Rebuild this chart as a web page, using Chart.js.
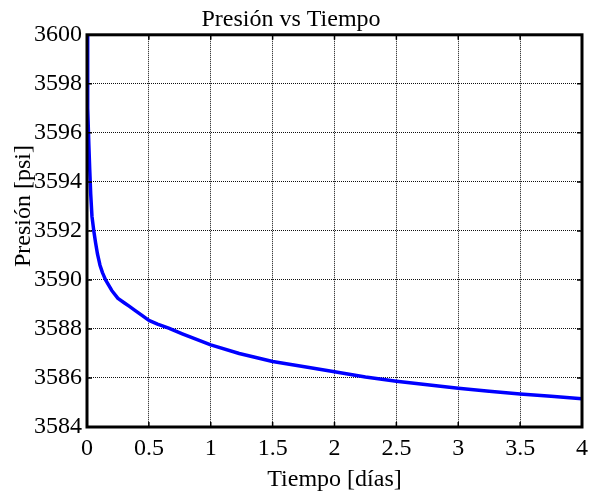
<!DOCTYPE html>
<html>
<head>
<meta charset="utf-8">
<script src="https://cdn.jsdelivr.net/npm/chart.js@4.4.1/dist/chart.umd.min.js"></script>
<style>
  html, body { margin: 0; padding: 0; background: #fff; }
  canvas { display: block; }
</style>
</head>
<body>
<canvas id="c" width="592" height="498"></canvas>
<script>
// ---- data ----
const tDays = [0, 0.003, 0.008, 0.015, 0.022, 0.03, 0.04, 0.055, 0.07, 0.085, 0.105, 0.125, 0.15, 0.2, 0.25, 0.3, 0.34, 0.39, 0.45, 0.5, 0.57, 0.66, 0.77, 0.88, 1.0, 1.23, 1.5, 1.77, 2.0, 2.25, 2.5, 2.75, 3.0, 3.25, 3.5, 3.75, 4.0];
const pressure = [3600, 3598.5, 3597, 3595.5, 3594.5, 3593.5, 3592.6, 3592.0, 3591.5, 3591.05, 3590.6, 3590.3, 3590.0, 3589.57, 3589.25, 3589.07, 3588.93, 3588.75, 3588.53, 3588.35, 3588.2, 3588.03, 3587.8, 3587.58, 3587.35, 3587.0, 3586.67, 3586.45, 3586.25, 3586.04, 3585.87, 3585.72, 3585.58, 3585.46, 3585.35, 3585.25, 3585.15];
const xTicks = [0, 0.5, 1, 1.5, 2, 2.5, 3, 3.5, 4];
const yTicks = [3584, 3586, 3588, 3590, 3592, 3594, 3596, 3598, 3600];
const titleText = 'Presión vs Tiempo';
const xLabel = 'Tiempo [días]';
const yLabel = 'Presión [psi]';

const FONT = '"Liberation Serif", "Times New Roman", serif';

const boxPlugin = {
  id: 'box',
  afterDraw(chart) {
    const { ctx, chartArea: a, scales: { x, y } } = chart;
    ctx.save();
    ctx.strokeStyle = '#000';
    ctx.lineWidth = 1.5;
    ctx.beginPath();
    xTicks.forEach(v => {
      const px = x.getPixelForValue(v);
      ctx.moveTo(px, a.bottom); ctx.lineTo(px, a.bottom - 5);
      ctx.moveTo(px, a.top); ctx.lineTo(px, a.top + 5);
    });
    yTicks.forEach(v => {
      const py = y.getPixelForValue(v);
      ctx.moveTo(a.left, py); ctx.lineTo(a.left + 5, py);
      ctx.moveTo(a.right, py); ctx.lineTo(a.right - 5, py);
    });
    ctx.stroke();
    ctx.lineWidth = 3;
    ctx.strokeRect(a.left, a.top, a.right - a.left, a.bottom - a.top);
    // y axis label (offset upward like the reference)
    ctx.font = '24px ' + FONT;
    ctx.fillStyle = '#000';
    ctx.textAlign = 'center';
    ctx.textBaseline = 'middle';
    ctx.translate(24, 206);
    ctx.rotate(-Math.PI / 2);
    ctx.fillText(yLabel, 0, 0);
    ctx.restore();
  }
};

new Chart(document.getElementById('c'), {
  type: 'line',
  data: {
    datasets: [{
      data: tDays.map((t, i) => ({ x: t, y: pressure[i] })),
      borderColor: '#0000ff',
      borderWidth: 3.5,
      pointRadius: 0,
      tension: 0,
      borderJoinStyle: 'round',
      fill: false
    }]
  },
  options: {
    responsive: false,
    animation: false,
    layout: { padding: { left: 0, right: 10, top: 0, bottom: 0 } },
    plugins: {
      legend: { display: false },
      tooltip: { enabled: false },
      title: {
        display: true,
        text: titleText,
        color: '#000',
        font: { family: FONT, size: 24, weight: 'normal' },
        padding: { top: 5, bottom: 1 }
      }
    },
    scales: {
      x: {
        type: 'linear',
        min: 0, max: 4,
        afterBuildTicks: s => { s.ticks = xTicks.map(v => ({ value: v })); },
        afterFit: s => { s.height = 71; s.paddingLeft = 0; s.paddingRight = 0; },
        ticks: {
          color: '#000',
          font: { family: FONT, size: 24 },
          padding: 7,
          maxRotation: 0,
          callback: v => String(v)
        },
        grid: { color: '#111', lineWidth: 1, drawTicks: false },
        border: { display: false, dash: [1, 1] },
        title: {
          display: true,
          text: xLabel,
          color: '#000',
          font: { family: FONT, size: 24 },
          padding: { top: 4, bottom: 4 }
        }
      },
      y: {
        type: 'linear',
        min: 3584, max: 3600,
        afterBuildTicks: s => { s.ticks = yTicks.map(v => ({ value: v })); },
        afterFit: s => { s.width = 87; s.paddingTop = 0; s.paddingBottom = 0; },
        ticks: {
          color: '#000',
          font: { family: FONT, size: 24 },
          padding: 5,
          callback: v => String(v)
        },
        grid: { color: '#111', lineWidth: 1, drawTicks: false },
        border: { display: false, dash: [1, 1] }
      }
    }
  },
  plugins: [boxPlugin]
});
</script>
</body>
</html>
